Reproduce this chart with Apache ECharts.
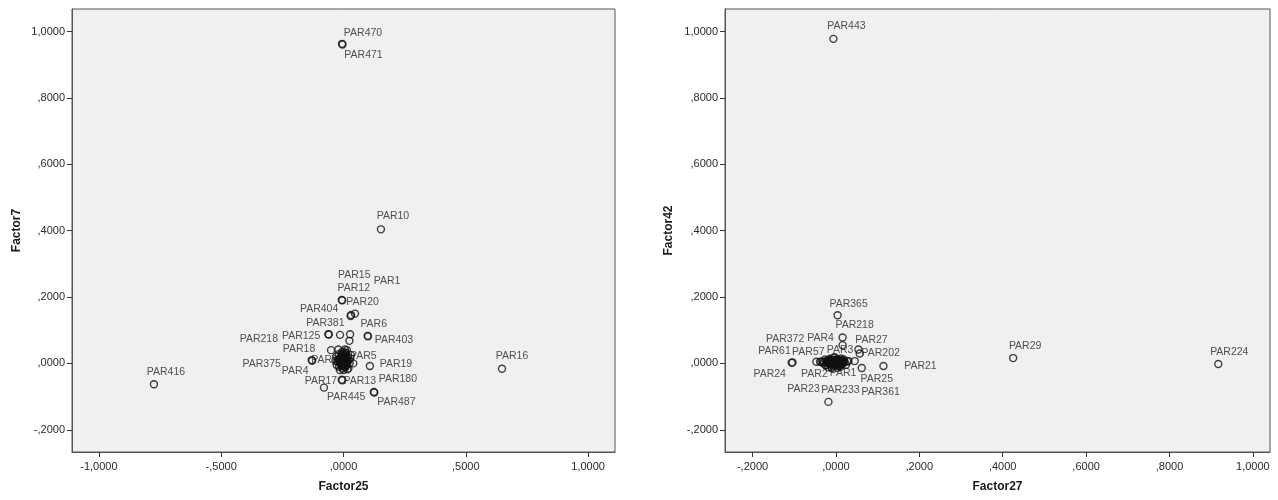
<!DOCTYPE html>
<html>
<head>
<meta charset="utf-8">
<script src="https://cdn.jsdelivr.net/npm/echarts@6/dist/echarts.min.js"></script>
<style>
html,body{margin:0;padding:0;background:#fff;}
#chart{width:1278px;height:500px;}
</style>
</head>
<body>
<div id="chart"></div>
<script>
// ---------- data ----------
const yTicks = [-0.2, 0, 0.2, 0.4, 0.6, 0.8, 1.0];
const leftXTicks = [-1.0, -0.5, 0, 0.5, 1.0];
const rightXTicks = [-0.2, 0, 0.2, 0.4, 0.6, 0.8, 1.0];

// Left panel: Factor25 (x) vs Factor7 (y), labelled points
const leftNames = ['PAR470','PAR471','PAR10','PAR16','PAR416','PAR15','PAR12','PAR1','PAR20','PAR404','PAR381','PAR125','PAR218','PAR6','PAR403','PAR18','PAR375','PAR4','PAR5','PAR19','PAR13','PAR17','PAR445','PAR487','PAR180','','','','','PAR3'];
const leftX = [-0.006,-0.004,0.153,0.648,-0.775,-0.005,-0.007,0.047,0.029,0.031,-0.062,-0.014,-0.060,0.099,0.100,-0.051,-0.130,-0.128,0.040,0.108,-0.007,-0.080,-0.005,0.126,0.124,0.027,0.024,-0.021,0.006,-0.020];
const leftY = [0.963,0.961,0.404,-0.016,-0.063,0.190,0.191,0.150,0.143,0.146,0.088,0.086,0.087,0.083,0.082,0.040,0.010,0.008,0.000,-0.008,-0.049,-0.073,-0.051,-0.088,-0.086,0.088,0.068,0.042,0.042,0.010];
// Left panel: dense cluster near the origin
const leftBlobX = [-0.030,-0.025,-0.020,-0.018,-0.012,-0.010,-0.008,-0.005,-0.003,0.000,0.002,0.004,0.006,0.008,0.010,0.012,0.015,0.018,0.020,0.022,0.025,-0.015,0.000,0.016,-0.028,0.028,-0.005,0.010,-0.020,0.005,0.030,-0.033,0.014,-0.002,
  -0.012,-0.009,-0.006,-0.003,0.000,0.003,0.006,0.009,0.012,-0.011,-0.008,-0.004,-0.001,0.002,0.005,0.008,0.011,-0.010,-0.007,-0.004,-0.001,0.002,0.005,0.008,0.011,-0.009,-0.005,-0.002,0.001,0.004,0.007,0.010,-0.008,-0.004,0.000,0.004,0.008,-0.006,0.000,0.006,-0.016,0.016,-0.014,0.014];
const leftBlobY = [0.020,0.005,0.028,-0.010,0.015,0.000,0.030,-0.015,0.010,0.022,-0.005,0.005,0.018,-0.012,0.030,0.008,-0.002,0.020,-0.015,0.010,0.000,-0.020,-0.020,-0.018,-0.005,0.015,0.035,0.033,0.012,-0.010,0.025,0.008,0.040,0.002,
  0.012,0.014,0.011,0.015,0.013,0.012,0.014,0.011,0.013,0.006,0.004,0.007,0.005,0.003,0.006,0.004,0.007,-0.002,0.000,-0.003,0.001,-0.001,0.000,-0.002,0.001,0.020,0.022,0.019,0.021,0.018,0.020,0.022,-0.008,-0.007,-0.009,-0.006,-0.008,0.027,0.026,0.028,0.004,0.006,0.016,-0.004];

// Right panel: Factor27 (x) vs Factor42 (y), labelled points
const rightNames = ['PAR443','PAR29','PAR224','PAR365','PAR218','PAR4','PAR27','PAR202','PAR24','PAR61','PAR57','PAR372','PAR25','PAR21','PAR233','PAR23','PAR361','PAR2','PAR1','PAR3',''];
const rightX = [-0.006,0.425,0.917,0.004,0.016,0.016,0.054,0.057,-0.106,-0.104,-0.047,-0.038,0.062,0.114,-0.018,-0.025,0.045,-0.030,0.010,0.005,0.030];
const rightY = [0.978,0.016,-0.002,0.145,0.078,0.055,0.042,0.030,0.002,0.003,0.005,0.005,-0.014,-0.008,-0.116,-0.005,0.007,0.000,0.000,0.010,0.007];
// Right panel: dense cluster near the origin
const rightBlobX = [-0.028,-0.024,-0.020,-0.017,-0.014,-0.011,-0.008,-0.005,-0.002,0.000,0.003,0.006,0.009,0.012,0.015,0.018,0.021,0.024,0.027,-0.026,-0.018,-0.010,-0.003,0.004,0.011,0.019,-0.015,0.000,0.014,-0.007,
  -0.021,-0.018,-0.015,-0.012,-0.009,-0.006,-0.003,0.000,0.003,0.006,0.009,0.012,0.015,0.018,-0.020,-0.016,-0.013,-0.010,-0.007,-0.004,-0.001,0.002,0.005,0.008,0.011,0.014,0.017,-0.019,-0.014,-0.010,-0.006,-0.002,0.002,0.006,0.010,0.014,-0.012,-0.006,0.000,0.006,0.012,-0.035,-0.032];
const rightBlobY = [0.004,-0.006,0.010,0.000,0.014,-0.010,0.006,0.017,-0.004,0.008,0.012,-0.008,0.002,0.015,-0.002,0.008,0.004,-0.004,0.006,0.012,-0.012,-0.014,0.019,-0.013,-0.010,0.012,0.006,0.000,0.006,-0.002,
  0.005,0.006,0.004,0.006,0.005,0.004,0.006,0.005,0.004,0.006,0.005,0.004,0.006,0.005,0.000,0.001,-0.001,0.000,0.001,-0.001,0.000,0.001,-0.001,0.000,0.001,-0.001,0.000,0.010,0.011,0.009,0.010,0.011,0.009,0.010,0.011,0.009,-0.005,-0.006,-0.005,-0.006,-0.005,0.004,0.006];

// label nudges (pixels, label centre relative to the marker)
const leftNudge = {PAR470:[21,-11],PAR471:[21,11],PAR10:[12,-13],PAR16:[10,-13],PAR416:[12,-12],PAR15:[12,-25],PAR12:[12,-12],PAR1:[32,-33],PAR20:[12,-14],PAR404:[-32,-6],PAR381:[-3,-11],PAR125:[-39,1],PAR218:[-70,5],PAR6:[6,-12],PAR403:[26,4],PAR18:[-32,-1],PAR375:[-50,4],PAR4:[-17,10],PAR5:[10,-7],PAR19:[26,-2],PAR13:[18,1],PAR17:[-3,-7],PAR445:[4,17],PAR487:[22,10],PAR180:[24,-13],PAR3:[-14,0]};
const rightNudge = {PAR443:[13,-13],PAR29:[12,-12],PAR224:[11,-12],PAR365:[11,-11],PAR218:[12,-12],PAR4:[-22,-7],PAR27:[13,-9],PAR202:[21,0],PAR24:[-22,11],PAR61:[-18,-11],PAR57:[-8,-10],PAR372:[-35,-23],PAR25:[15,11],PAR21:[37,0],PAR233:[12,-12],PAR23:[-22,24],PAR361:[26,31],PAR2:[-9,11],PAR1:[3,10],PAR3:[2,-10]};

// ---------- chart ----------
const FONT = 'Liberation Sans, Arial, sans-serif';
function fmt(v){
  let s = Math.abs(v).toFixed(4).replace('.', ',');
  if (s.charAt(0) === '0') s = s.slice(1);
  return (v < -1e-9 ? '-' : '') + s;
}
function labelled(names, xs, ys, nudge){
  return names.map((n, i) => {
    const item = {name: n, value: [xs[i], ys[i]]};
    if (n && nudge[n]) {
      item.label = {show: true, position: 'inside', offset: nudge[n], formatter: n};
    } else {
      item.label = {show: false};
    }
    return item;
  });
}
function plain(xs, ys){ return xs.map((x, i) => [x, ys[i]]); }

const symbolStyle = {color: 'rgba(0,0,0,0)', borderColor: '#111', borderWidth: 1.4};
const labelStyle = {color: '#262626', fontSize: 10.5, fontFamily: FONT, align: 'center', verticalAlign: 'middle'};

function xAxis(idx, min, max, ticks, name){
  return {
    type: 'value', gridIndex: idx, min: min, max: max,
    name: name, nameLocation: 'middle', nameGap: 29,
    nameTextStyle: {fontFamily: FONT, fontWeight: 'bold', fontSize: 12, color: '#1a1a1a'},
    axisLine: {show: true, onZero: false, lineStyle: {color: '#555', width: 1}},
    axisTick: {show: true, customValues: ticks, length: 5, lineStyle: {color: '#333'}},
    axisLabel: {customValues: ticks, formatter: fmt, fontFamily: FONT, fontSize: 11, color: '#2a2a2a', margin: 9},
    splitLine: {show: false}
  };
}
function yAxis(idx, name, gap){
  return {
    type: 'value', gridIndex: idx, min: -0.267, max: 1.068,
    name: name, nameLocation: 'middle', nameGap: gap,
    nameTextStyle: {fontFamily: FONT, fontWeight: 'bold', fontSize: 12, color: '#1a1a1a'},
    axisLine: {show: true, onZero: false, lineStyle: {color: '#555', width: 1}},
    axisTick: {show: true, customValues: yTicks, length: 5, lineStyle: {color: '#333'}},
    axisLabel: {customValues: yTicks, formatter: fmt, fontFamily: FONT, fontSize: 11, color: '#2a2a2a', margin: 7},
    splitLine: {show: false}
  };
}

const chart = echarts.init(document.getElementById('chart'), null, {renderer: 'canvas'});
chart.setOption({
  animation: false,
  backgroundColor: '#ffffff',
  grid: [
    {left: 72, top: 9, width: 543, height: 443, show: true, backgroundColor: '#f0f0f0', borderColor: '#555', borderWidth: 1},
    {left: 725, top: 9, width: 545, height: 443, show: true, backgroundColor: '#f0f0f0', borderColor: '#555', borderWidth: 1}
  ],
  xAxis: [
    xAxis(0, -1.11, 1.11, leftXTicks, 'Factor25'),
    xAxis(1, -0.266, 1.041, rightXTicks, 'Factor27')
  ],
  yAxis: [
    yAxis(0, 'Factor7', 49),
    yAxis(1, 'Factor42', 50)
  ],
  series: [
    {type: 'scatter', xAxisIndex: 0, yAxisIndex: 0, z: 2, symbol: 'circle', symbolSize: 7,
     itemStyle: symbolStyle, label: labelStyle, emphasis: {disabled: true},
     data: labelled(leftNames, leftX, leftY, leftNudge)},
    {type: 'scatter', xAxisIndex: 0, yAxisIndex: 0, z: 3, symbol: 'circle', symbolSize: 7,
     itemStyle: symbolStyle, emphasis: {disabled: true},
     data: plain(leftBlobX, leftBlobY)},
    {type: 'scatter', xAxisIndex: 1, yAxisIndex: 1, z: 2, symbol: 'circle', symbolSize: 7,
     itemStyle: symbolStyle, label: labelStyle, emphasis: {disabled: true},
     data: labelled(rightNames, rightX, rightY, rightNudge)},
    {type: 'scatter', xAxisIndex: 1, yAxisIndex: 1, z: 3, symbol: 'circle', symbolSize: 7,
     itemStyle: symbolStyle, emphasis: {disabled: true},
     data: plain(rightBlobX, rightBlobY)}
  ]
});
</script>
</body>
</html>
